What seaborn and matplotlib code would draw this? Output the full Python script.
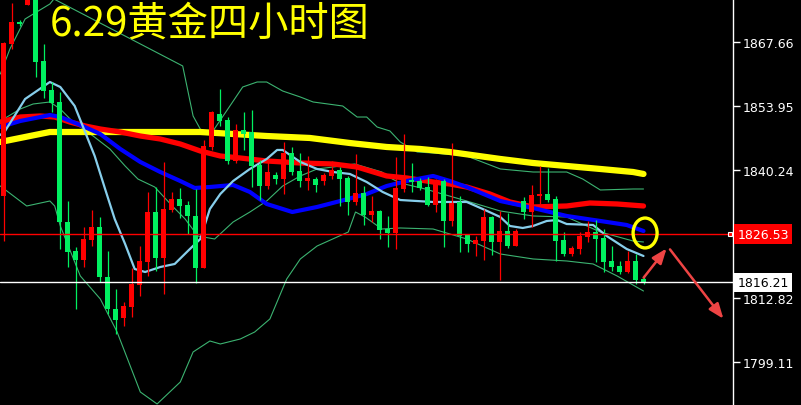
import matplotlib
matplotlib.use("Agg")
import matplotlib.pyplot as plt
from matplotlib.patches import Ellipse
import seaborn as sns
import numpy as np

# 4H candles, oldest first
opens = [1834.67, 1867.23, 1871.84, 1875.58, 1879.01, 1863.59, 1857.38, 1854.81, 1829.10, 1822.89,
         1820.96, 1825.25, 1828.03, 1817.32, 1810.47, 1808.54, 1810.90, 1815.61, 1820.53, 1831.24,
         1821.39, 1831.67, 1834.03, 1832.74, 1830.39, 1819.25, 1845.17, 1852.24, 1850.95, 1842.17,
         1848.81, 1848.38, 1841.31, 1836.81, 1839.17, 1838.31, 1843.88, 1840.03, 1837.88, 1838.31,
         1837.88, 1838.96, 1840.24, 1838.53, 1833.39, 1835.31, 1830.60, 1831.46, 1827.60, 1826.75,
         1836.17, 1838.10, 1837.88, 1836.60, 1832.74, 1837.88, 1829.32, 1833.39, 1826.32, 1824.39,
         1825.03, 1830.17, 1824.82, 1827.17, 1823.96, 1833.60, 1831.24, 1834.67, 1835.10, 1834.03,
         1825.25, 1822.25, 1823.32, 1825.89, 1826.96, 1825.68, 1820.75, 1819.68, 1818.39, 1820.75,
         1816.89]
highs = [1867.60, 1876.01, 1872.37, 1880.08, 1879.87, 1867.23, 1859.09, 1856.95, 1833.60, 1823.75,
         1828.03, 1831.67, 1830.17, 1822.89, 1814.75, 1811.97, 1819.25, 1823.96, 1835.53, 1836.60,
         1841.96, 1835.53, 1836.39, 1833.60, 1836.17, 1846.67, 1852.88, 1857.59, 1851.59, 1850.09,
         1852.66, 1853.09, 1842.38, 1841.96, 1839.81, 1846.24, 1845.17, 1843.88, 1843.24, 1838.74,
         1839.60, 1842.17, 1840.88, 1838.96, 1843.67, 1836.81, 1834.67, 1831.67, 1830.39, 1843.03,
         1847.95, 1841.74, 1838.53, 1838.74, 1838.31, 1838.31, 1846.02, 1834.67, 1826.53, 1826.10,
         1831.89, 1830.39, 1831.46, 1831.03, 1827.60, 1834.46, 1837.03, 1841.10, 1840.67, 1834.67,
         1826.96, 1823.96, 1826.96, 1829.32, 1829.53, 1827.60, 1823.96, 1820.75, 1822.89, 1822.25,
         1817.75]
lows = [1825.03, 1866.16, 1871.09, 1875.58, 1860.16, 1855.66, 1852.67, 1823.32, 1819.46, 1810.47,
        1819.46, 1823.96, 1816.25, 1809.40, 1805.11, 1806.83, 1808.76, 1813.25, 1817.54, 1818.61,
        1813.68, 1831.24, 1829.96, 1826.53, 1816.04, 1819.25, 1844.53, 1849.67, 1841.53, 1841.74,
        1844.53, 1836.60, 1833.81, 1836.17, 1837.24, 1835.10, 1839.17, 1836.60, 1835.96, 1835.53,
        1837.03, 1838.31, 1832.53, 1830.60, 1832.74, 1828.46, 1829.10, 1825.46, 1823.75, 1823.32,
        1835.53, 1835.53, 1835.96, 1832.53, 1831.24, 1823.75, 1828.25, 1822.68, 1822.68, 1821.82,
        1820.96, 1822.03, 1816.68, 1823.53, 1823.96, 1829.75, 1828.03, 1832.96, 1833.39, 1820.75,
        1821.82, 1821.82, 1822.25, 1824.82, 1820.53, 1818.39, 1818.61, 1817.96, 1818.17, 1815.82,
        1815.82]
closes = [1867.45, 1871.94, 1871.62, 1878.58, 1863.37, 1857.16, 1854.59, 1829.10, 1822.68, 1820.96,
          1825.46, 1828.03, 1817.32, 1810.47, 1808.11, 1811.11, 1815.82, 1820.75, 1831.24, 1821.39,
          1831.89, 1834.03, 1832.53, 1830.39, 1819.25, 1845.38, 1852.66, 1850.74, 1842.17, 1848.81,
          1847.95, 1841.10, 1836.81, 1839.81, 1838.31, 1843.88, 1839.81, 1837.88, 1838.53, 1837.03,
          1839.17, 1840.24, 1838.31, 1833.39, 1835.31, 1830.60, 1831.46, 1827.39, 1826.75, 1836.39,
          1838.53, 1837.67, 1836.39, 1832.74, 1837.88, 1829.32, 1833.17, 1826.10, 1824.39, 1825.25,
          1830.17, 1824.82, 1827.17, 1823.96, 1827.17, 1831.24, 1834.89, 1835.10, 1833.81, 1825.03,
          1822.25, 1823.53, 1826.10, 1826.96, 1825.46, 1820.53, 1819.46, 1818.39, 1820.75, 1816.68,
          1816.21]

# indicator lines (bar index, price)
yellow_x = [-0.4, 3.3, 5.8, 12.1, 18.3, 24.6, 32.9, 38.3, 43.3, 47.9, 52.1, 55.8, 62.1, 66.2, 70.4, 74.6, 78.7, 80]
yellow_y = [1846.24, 1847.52, 1848.38, 1848.38, 1848.38, 1848.38, 1847.52, 1847.10, 1846.02, 1845.17,
            1844.74, 1844.10, 1842.60, 1841.74, 1841.10, 1840.46, 1839.81, 1839.39]

red_x = [-0.4, 2.1, 4.6, 6.4, 8.3, 10.2, 12.1, 14.6, 17.1, 19.6, 22.1, 24.6, 27.1, 29.6, 32.9,
         37.1, 41.2, 44.2, 47.9, 50.4, 53.7, 55.8, 57.9, 60.8, 63.3, 66.2, 70.4, 73.3, 76.7, 80]
red_y = [1850.52, 1851.59, 1851.81, 1851.59, 1850.52, 1849.67, 1849.02, 1848.38, 1847.52, 1846.88,
         1845.81, 1844.31, 1843.24, 1842.81, 1842.17, 1841.74, 1841.53, 1840.88, 1838.96, 1838.53,
         1837.67, 1837.24, 1836.60, 1835.10, 1833.39, 1832.32, 1832.53, 1833.17, 1832.96, 1832.53]

blue_x = [-0.4, 2.1, 4.6, 5.8, 7.1, 9.6, 12.1, 14.6, 17.1, 19.6, 22.1, 23.9, 25.8, 28.7, 30.8, 32.9,
          36.1, 39.2, 42.1, 45.4, 47.9, 50.4, 53.7, 55.8, 57.9, 62.1, 66.2, 70.4, 74.6, 77.9, 80]
blue_y = [1849.45, 1850.74, 1851.59, 1852.02, 1851.59, 1849.88, 1847.95, 1844.74, 1841.96, 1839.81,
          1837.88, 1836.39, 1836.60, 1837.03, 1835.53, 1832.96, 1831.24, 1832.32, 1833.60, 1835.10,
          1836.81, 1837.88, 1838.96, 1837.88, 1836.60, 1833.60, 1832.10, 1830.39, 1829.32, 1828.46,
          1827.17]

sky_x = [-0.4, 0.2, 2.7, 5.8, 7.1, 8.9, 10.2, 11.4, 12.7, 13.9, 15.2, 16.4, 17.7, 19.6, 21.4, 23.3,
         24.6, 25.8, 27.1, 28.7, 30.8, 32.9, 34.2, 34.9, 37.1, 39.2, 41.2, 43.3, 45.4, 47.4, 49.6,
         53.7, 57.9, 59.9, 62.1, 63.3, 64.9, 66.2, 67.9, 69.2, 70.4, 73.7, 75.4, 77.9, 80]
sky_y = [1847.74, 1848.60, 1855.45, 1859.09, 1858.02, 1853.95, 1848.38, 1843.24, 1836.17, 1829.75,
         1824.39, 1819.04, 1818.39, 1819.46, 1820.11, 1823.32, 1825.46, 1831.89, 1835.10, 1837.88,
         1840.46, 1842.60, 1844.53, 1844.53, 1841.96, 1840.46, 1839.81, 1839.39, 1837.67, 1835.53,
         1833.81, 1833.39, 1833.39, 1831.89, 1830.17, 1828.25, 1827.82, 1828.25, 1829.32, 1829.53,
         1828.67, 1828.46, 1826.10, 1823.32, 1821.82]

bb_up_x = [-0.4, 0.8, 2.7, 5.8, 6.8, 10.8, 15.8, 19.6, 20.4, 22.4, 23.7, 24.8, 26.1, 28.3, 29.9,
           31.7, 32.9, 34.9, 37.1, 38.7, 42.4, 44.2, 45.4, 46.7, 48.3, 49.6, 51.7, 53.7, 57.9,
           62.1, 66.2, 70.4, 72.4, 74.6, 78.7, 80]
bb_up_y = [1860.80, 1866.16, 1872.59, 1875.80, 1877.94, 1884.37, 1884.37, 1878.58, 1876.87, 1862.52,
           1851.81, 1848.38, 1848.38, 1853.95, 1858.02, 1859.09, 1859.09, 1857.16, 1855.88, 1854.81,
           1853.95, 1851.59, 1851.59, 1849.45, 1848.60, 1846.24, 1844.10, 1843.88, 1843.24, 1840.46,
           1839.81, 1839.81, 1838.31, 1835.96, 1836.17, 1836.17]

bb_mid_x = [-0.4, 2.1, 3.7, 5.8, 7.1, 8.7, 11.2, 13.3, 15.2, 16.8, 18.9, 21.1, 22.7, 24.3, 26.4,
            28.7, 30.8, 32.9, 34.9, 37.1, 39.2, 41.2, 43.9, 47.3, 48.6, 49.6, 52.7, 57.9, 62.1,
            66.2, 70.4, 74.6, 78.7, 80]
bb_mid_y = [1850.74, 1853.31, 1854.38, 1854.81, 1853.31, 1850.52, 1847.52, 1844.74, 1841.10, 1838.31,
            1836.60, 1832.53, 1829.75, 1826.10, 1825.46, 1829.10, 1831.24, 1833.60, 1836.81, 1838.96,
            1840.46, 1840.88, 1841.53, 1839.81, 1838.31, 1837.46, 1836.17, 1833.60, 1831.46, 1830.39,
            1830.17, 1826.96, 1825.03, 1824.82]

bb_low_x = [-0.4, 2.9, 5.8, 6.4, 7.1, 9.6, 12.1, 14.2, 17.1, 19.2, 22.1, 23.7, 25.8, 27.1, 29.6,
            31.4, 33.3, 35.4, 37.1, 39.2, 43.1, 44.0, 45.2, 47.3, 49.6, 53.7, 57.9, 62.1, 66.2,
            70.4, 73.7, 76.7, 80]
bb_low_y = [1836.81, 1832.53, 1833.60, 1832.53, 1828.25, 1817.54, 1812.61, 1805.54, 1792.69, 1790.12,
            1794.83, 1801.26, 1803.61, 1802.97, 1804.04, 1805.54, 1808.33, 1816.89, 1821.18, 1823.96,
            1826.96, 1831.24, 1830.17, 1827.60, 1827.82, 1827.60, 1825.46, 1822.25, 1821.18, 1820.75,
            1820.11, 1817.54, 1814.32]

tick_values = [1867.66, 1853.95, 1840.24, 1826.53, 1812.82, 1799.11]
level_price = 1826.53
last_price = 1816.21
title = "6.29黄金四小时图"

UP = "#ff0000"
DOWN = "#00f060"

sns.set_style("dark", {"axes.facecolor": "black", "figure.facecolor": "black"})
plt.rcParams["font.family"] = ["DejaVu Sans"]

fig = plt.figure(figsize=(8.01, 4.06), dpi=100)
ax = fig.add_axes([0, 0, 733 / 801, 1])
ax.set_facecolor("black")

# moving averages and bands
for xs, ys, col, lw in [(bb_up_x, bb_up_y, "#3cb371", 0.8),
                        (bb_mid_x, bb_mid_y, "#3cb371", 0.8),
                        (bb_low_x, bb_low_y, "#3cb371", 0.8),
                        (yellow_x, yellow_y, "#ffff00", 4.5),
                        (red_x, red_y, "#ff0000", 3.8),
                        (blue_x, blue_y, "#0000ff", 3.0),
                        (sky_x, sky_y, "#87ceeb", 1.6)]:
    sns.lineplot(x=xs, y=ys, color=col, linewidth=lw, ax=ax, zorder=2)

# candles
idx = np.arange(len(opens))
o = np.array(opens)
c = np.array(closes)
colors = [UP if cc >= oo else DOWN for oo, cc in zip(o, c)]
ax.vlines(idx, lows, highs, colors=colors, linewidth=0.9, zorder=3)
bottoms = np.minimum(o, c)
heights = np.maximum(np.abs(c - o), 0.3)
ax.bar(idx, heights, bottom=bottoms, width=0.68, color=colors, linewidth=0, zorder=4)

# price levels
ax.axhline(level_price, color="#ff0000", linewidth=1, zorder=5)
ax.axhline(last_price, color="white", linewidth=1, zorder=5)
ax.plot([90.8], [level_price], marker="s", markersize=3.5, markerfacecolor="#ff0000",
        markeredgecolor="white", markeredgewidth=0.8, zorder=6, clip_on=False)

# circle and arrows
ax.add_patch(Ellipse((80.2, 1826.75), 3.0, 6.4, fill=False, edgecolor="#ffff00", linewidth=2.4, zorder=6))
arrow = dict(arrowstyle="-|>,head_length=0.9,head_width=0.35", color="#ee4444", linewidth=1.8)
ax.annotate("", xy=(83.1, 1823.9), xytext=(79.8, 1816.7), arrowprops=arrow, zorder=6)
ax.annotate("", xy=(90.2, 1807.9), xytext=(83.1, 1823.7), arrowprops=arrow, zorder=6)

ax.set_xlim(-0.4375, 91.1875)
ax.set_ylim(1789.90, 1876.87)
ax.set_xticks([])
ax.yaxis.tick_right()
ax.set_yticks(tick_values)
# the level tag below covers the 1826.53 tick label, as on the terminal
ax.set_yticklabels(["" if v == level_price else f"{v:.2f}" for v in tick_values])
ax.tick_params(axis="y", colors="white", labelcolor="white", labelsize=9, length=5, width=1,
               direction="out", pad=2)
for side in ["top", "bottom", "left"]:
    ax.spines[side].set_visible(False)
ax.spines["right"].set_color("white")
ax.spines["right"].set_linewidth(1)
ax.grid(False)

ytr = ax.get_yaxis_transform()
ax.text(1.006, level_price, f"{level_price:.2f}", transform=ytr, ha="left", va="center",
        color="white", fontsize=9, clip_on=False,
        bbox=dict(boxstyle="square,pad=0.25", facecolor="#ff0000", edgecolor="none"))
ax.text(1.006, last_price, f"{last_price:.2f}", transform=ytr, ha="left", va="center",
        color="black", fontsize=9, clip_on=False,
        bbox=dict(boxstyle="square,pad=0.25", facecolor="white", edgecolor="none"))

fig.text(50 / 801, 1 - 3 / 406, title, color="#ffff00", fontsize=29, ha="left", va="top",
         family=["Noto Sans CJK SC", "DejaVu Sans"])

fig.savefig("out.png", dpi=100, facecolor="black")
plt.close(fig)
